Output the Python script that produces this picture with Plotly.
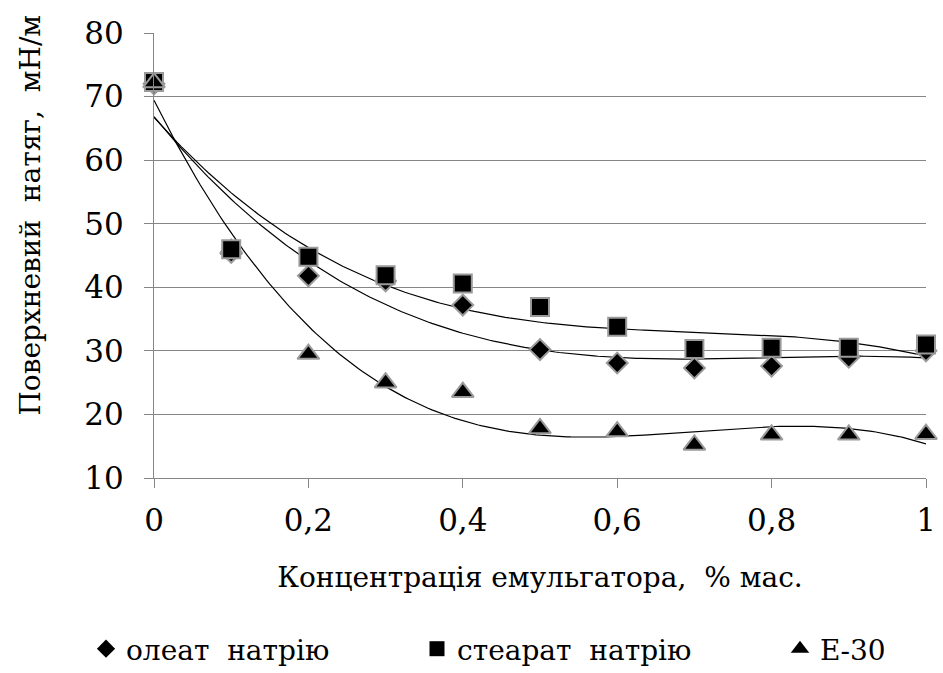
import numpy as np
import plotly.graph_objects as go

x = [0, 0.1, 0.2, 0.3, 0.4, 0.5, 0.6, 0.7, 0.8, 0.9, 1.0]
oleate = [72, 45.5, 41.8, 41.0, 37.2, 30.2, 28.1, 27.3, 27.6, 29.0, 30.0]
stearate = [72.3, 46.0, 44.8, 41.9, 40.6, 36.9, 33.8, 30.3, 30.5, 30.5, 31.0]
e30 = [72.2, 46.0, 29.5, 25.0, 23.5, 17.8, 17.3, 15.2, 16.8, 16.8, 16.9]

names = ["олеат\u00a0 натрію", "стеарат\u00a0 натрію", "Е-30"]
symbols = ["diamond", "square", "triangle-up"]
sizes = [16, 18, 19]
leg_sizes = [14, 15, 16]
trend_degree = 3
series = [oleate, stearate, e30]

FONT = "DejaVu Serif"
TXT = 28
TICK = 31

fig = go.Figure()

xs = np.linspace(0, 1, 201)
for vals in series:
    c = np.polyfit(np.array(x), np.array(vals), trend_degree)
    fig.add_trace(go.Scatter(x=xs, y=np.polyval(c, xs), mode="lines",
                             line=dict(color="black", width=1.2),
                             showlegend=False, hoverinfo="skip"))

def markers(i, xv, yv):
    fig.add_trace(go.Scatter(x=xv, y=yv, mode="markers",
                             marker=dict(symbol=symbols[i], size=sizes[i], color="black",
                                         line=dict(color="#9a9a9a", width=2)),
                             showlegend=False, cliponaxis=False))

# drawing order: oleate, E-30 (from 0.1), stearate, E-30 first point on top
markers(0, x, oleate)
markers(2, x[1:], e30[1:])
markers(1, x, stearate)
markers(2, x[:1], e30[:1])

legs = ["legend", "legend2", "legend3"]
legx = [86 / 943, 417 / 943, 780 / 943]
for name, sym, lg, ls in zip(names, symbols, legs, leg_sizes):
    fig.add_trace(go.Scatter(x=[None], y=[None], mode="markers", name=name,
                             marker=dict(symbol=sym, size=ls, color="black"),
                             legend=lg))

legend_common = dict(orientation="h", yref="container", yanchor="middle",
                     y=(673 - 649) / 673, xref="container", xanchor="left",
                     font=dict(family=FONT, size=TXT, color="black"),
                     itemwidth=30, tracegroupgap=0, bgcolor="rgba(0,0,0,0)")

fig.update_layout(
    width=943, height=673,
    margin=dict(l=154, r=7, t=33, b=195),
    paper_bgcolor="white", plot_bgcolor="white",
    separators=", ",
    font=dict(family=FONT, size=TXT, color="black"),
    legend=dict(**legend_common, x=legx[0]),
    legend2=dict(**legend_common, x=legx[1]),
    legend3=dict(**legend_common, x=legx[2]),
    xaxis=dict(range=[0, 1], tickvals=[0, 0.2, 0.4, 0.6, 0.8, 1.0],
               tickformat="~g", showgrid=False, zeroline=False,
               showline=True, linecolor="#868686", linewidth=1.3,
               ticks="outside", ticklen=9, tickcolor="#868686", tickwidth=1.3,
               ticklabelstandoff=6, ticklabeloverflow="allow",
               tickfont=dict(family=FONT, size=TICK, color="black"),
               title=dict(text="Концентрація емульгатора,\u00a0 % мас.",
                          font=dict(family=FONT, size=TXT, color="black"),
                          standoff=30)),
    yaxis=dict(range=[10, 80], dtick=10, showgrid=True, gridcolor="#868686",
               gridwidth=1.3, zeroline=False,
               showline=True, linecolor="#868686", linewidth=1.3,
               ticks="outside", ticklen=9, tickcolor="#868686", tickwidth=1.3,
               ticklabelstandoff=14,
               tickfont=dict(family=FONT, size=TICK, color="black")),
    annotations=[dict(text="Поверхневий\u00a0 натяг,\u00a0 мН/м", textangle=-90,
                      xref="paper", yref="paper", x=(29 - 154) / 782,
                      y=(478 - 215) / 445, xanchor="center", yanchor="middle",
                      showarrow=False,
                      font=dict(family=FONT, size=TXT, color="black"))],
)

fig.write_html("out.html")
